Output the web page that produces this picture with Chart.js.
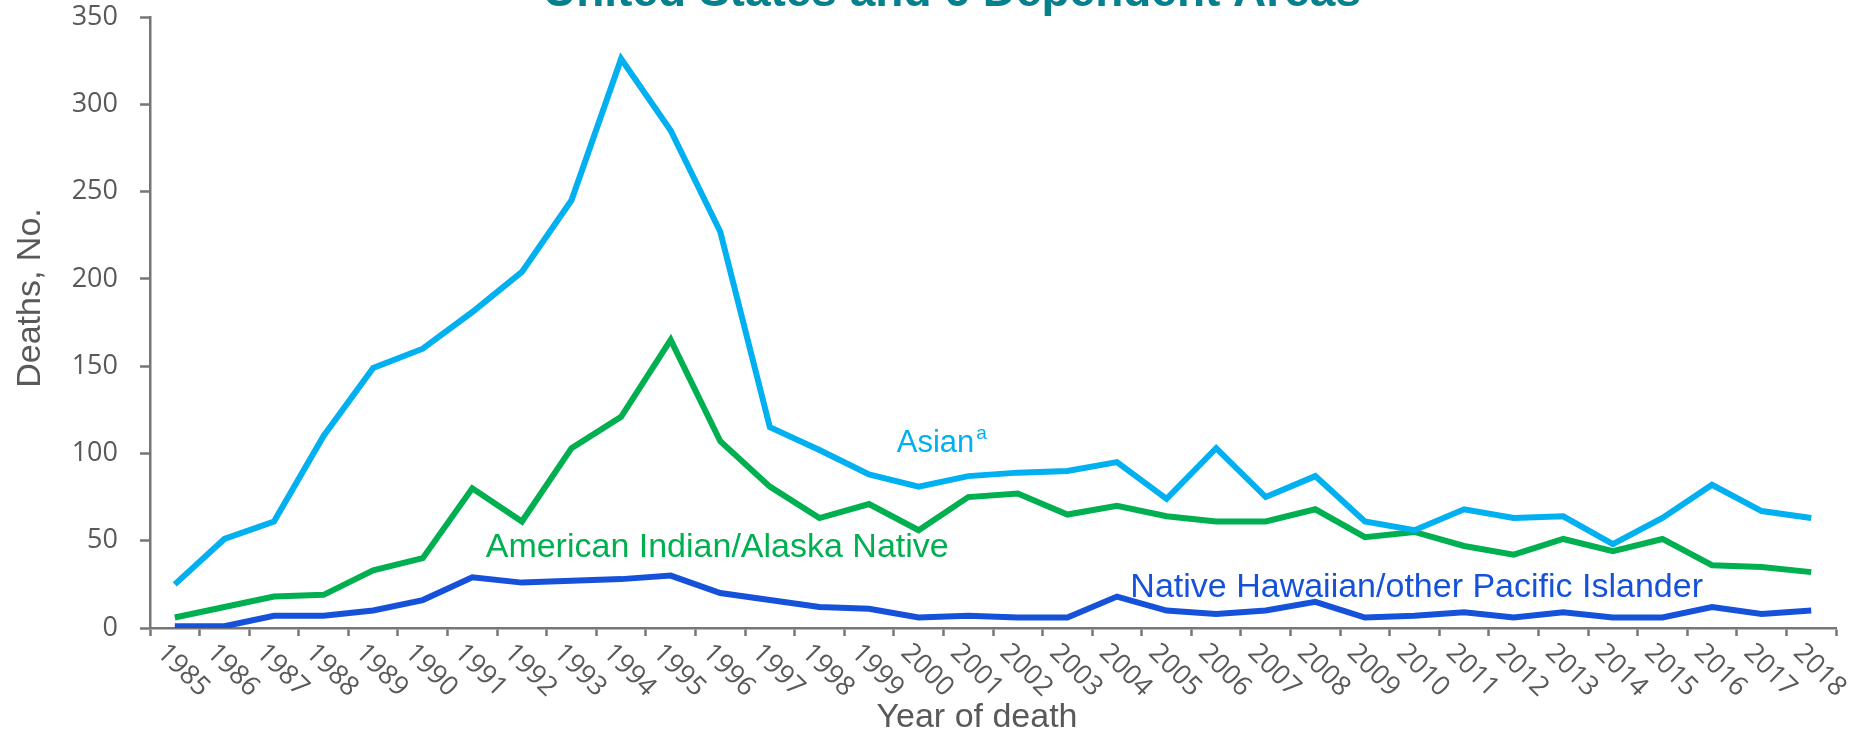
<!DOCTYPE html>
<html>
<head>
<meta charset="utf-8">
<script src="https://cdn.jsdelivr.net/npm/chart.js@4/dist/chart.umd.min.js"></script>
<style>
  html, body { margin: 0; padding: 0; background: #fff; overflow: hidden; }
  canvas { display: block; }
</style>
</head>
<body>
<canvas id="chart" width="1868" height="733" style="width:1868px;height:733px"></canvas>
<script>
// Dados
const anos = ['1985','1986','1987','1988','1989','1990','1991','1992','1993','1994','1995','1996',
  '1997','1998','1999','2000','2001','2002','2003','2004','2005','2006','2007','2008','2009','2010',
  '2011','2012','2013','2014','2015','2016','2017','2018'];
const asiatico = [25, 51, 61, 110, 149, 160, 181, 204, 245, 326, 285, 227,
  115, 102, 88, 81, 87, 89, 90, 95, 74, 103, 75, 87, 61, 56,
  68, 63, 64, 48, 63, 82, 67, 63];
const indigena = [6, 12, 18, 19, 33, 40, 80, 61, 103, 121, 165, 107,
  81, 63, 71, 56, 75, 77, 65, 70, 64, 61, 61, 68, 52, 55,
  47, 42, 51, 44, 51, 36, 35, 32];
const havaiano = [1, 1, 7, 7, 10, 16, 29, 26, 27, 28, 30, 20,
  16, 12, 11, 6, 7, 6, 6, 18, 10, 8, 10, 15, 6, 7,
  9, 6, 9, 6, 6, 12, 8, 10];

const titulo = 'United States and 6 Dependent Areas';
const tituloX = 'Year of death';
const tituloY = 'Deaths, No.';
const corEixo = '#767676';
const corTexto = '#595959';

// Textos extras: titulo cortado, rótulos rotacionados do eixo x, títulos dos eixos e nomes das séries
const textosExtras = {
  id: 'textosExtras',
  afterDraw(chart) {
    const { ctx, scales: { x, y } } = chart;
    ctx.save();

    // titulo (parcialmente fora da tela, como no original)
    ctx.fillStyle = '#05808d';
    ctx.font = 'bold 46px "Liberation Sans"';
    ctx.textAlign = 'center';
    ctx.textBaseline = 'alphabetic';
    ctx.fillText(titulo, 952, 6);

    // títulos dos eixos
    ctx.fillStyle = corTexto;
    ctx.font = '34px "Liberation Sans"';
    ctx.fillText(tituloX, 977, 727);
    ctx.save();
    ctx.translate(40, 298);
    ctx.rotate(-Math.PI / 2);
    ctx.fillText(tituloY, 0, 0);
    ctx.restore();

    // rótulos do eixo x, girados para baixo
    ctx.font = '27px "Open Sans"';
    ctx.textAlign = 'left';
    ctx.textBaseline = 'top';
    anos.forEach((ano, i) => {
      const px = x.getPixelForTick(i);
      ctx.save();
      ctx.translate(px - 4, y.bottom + 11);
      ctx.rotate(Math.PI / 4);
      ctx.fillText(ano, 0, 0);
      ctx.restore();
    });

    // nomes das séries
    ctx.textBaseline = 'alphabetic';
    ctx.font = '31px "Liberation Sans"';
    ctx.fillStyle = '#00b0f0';
    const ax = x.getPixelForValue(14.56), ay = y.getPixelForValue(101);
    ctx.fillText('Asian', ax, ay);
    const w = ctx.measureText('Asian').width;
    ctx.font = '19px "Liberation Sans"';
    ctx.fillText('a', ax + w + 2, ay - 13);

    ctx.font = '34px "Liberation Sans"';
    ctx.fillStyle = '#00b050';
    ctx.fillText('American Indian/Alaska Native', x.getPixelForValue(6.27), y.getPixelForValue(40.7));
    ctx.fillStyle = '#1652d9';
    ctx.fillText('Native Hawaiian/other Pacific Islander', x.getPixelForValue(19.27), y.getPixelForValue(18));

    ctx.restore();
  }
};

const linha = (cor, dados) => ({
  data: dados,
  borderColor: cor,
  backgroundColor: cor,
  borderWidth: 6,
  pointRadius: 0,
  tension: 0,
  fill: false
});

new Chart(document.getElementById('chart'), {
  type: 'line',
  data: {
    labels: anos,
    datasets: [
      linha('#00b0f0', asiatico),
      linha('#00b050', indigena),
      linha('#1652d9', havaiano)
    ]
  },
  options: {
    responsive: false,
    devicePixelRatio: 1,
    animation: false,
    layout: { padding: { top: 17, right: 32, left: 0, bottom: 0 } },
    plugins: { legend: { display: false }, tooltip: { enabled: false }, title: { display: false } },
    scales: {
      x: {
        offset: true,
        grid: { offset: true, drawOnChartArea: false, drawTicks: true, tickLength: 8, tickColor: corEixo, tickWidth: 2.5 },
        border: { color: corEixo, width: 2.5 },
        ticks: { display: false },
        afterFit: s => { s.height = 105; s.paddingLeft = 0; s.paddingRight = 0; }
      },
      y: {
        min: 0,
        max: 350,
        ticks: { stepSize: 50, color: corTexto, padding: 22, font: { family: 'Open Sans', size: 27 } },
        grid: { drawOnChartArea: false, drawTicks: true, tickLength: 10, tickColor: corEixo, tickWidth: 2.5 },
        border: { color: corEixo, width: 2.5 },
        afterFit: s => { s.width = 150; s.paddingTop = 0; s.paddingBottom = 0; }
      }
    }
  },
  plugins: [textosExtras]
});
</script>
</body>
</html>
